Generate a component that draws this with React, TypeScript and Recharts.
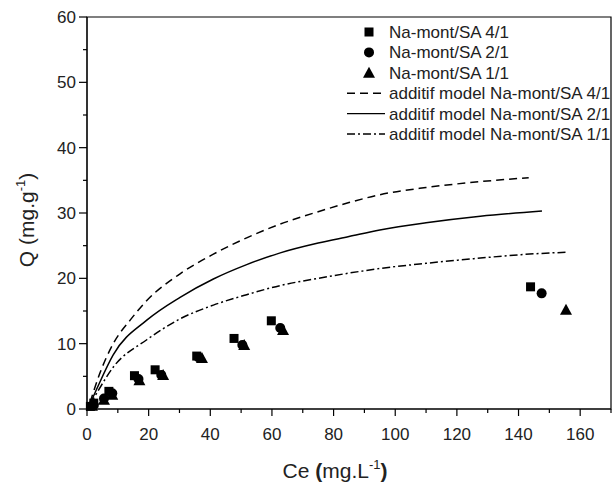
import React from "react";
import {
  ComposedChart,
  Line,
  Scatter,
  XAxis,
  YAxis,
  ReferenceArea,
  Label
} from "recharts";

// measured points (Ce, Q)
const mont41 = [
  { x: 1.1, y: 0.4 }, { x: 2.2, y: 0.9 }, { x: 7.1, y: 2.7 }, { x: 15.4, y: 5.1 },
  { x: 22.1, y: 6.0 }, { x: 35.6, y: 8.1 }, { x: 47.7, y: 10.8 }, { x: 59.8, y: 13.5 },
  { x: 143.9, y: 18.7 }
];
const mont21 = [
  { x: 2.2, y: 0.6 }, { x: 5.5, y: 1.6 }, { x: 8.2, y: 2.4 }, { x: 16.7, y: 4.6 },
  { x: 24.1, y: 5.2 }, { x: 36.2, y: 7.9 }, { x: 50.4, y: 9.8 }, { x: 62.7, y: 12.4 },
  { x: 147.5, y: 17.7 }
];
const mont11 = [
  { x: 1.6, y: 0.5 }, { x: 5.5, y: 1.4 }, { x: 8.2, y: 2.2 }, { x: 17.0, y: 4.4 },
  { x: 24.7, y: 5.2 }, { x: 37.3, y: 7.8 }, { x: 51.0, y: 9.8 }, { x: 63.6, y: 12.1 },
  { x: 155.4, y: 15.2 }
];

// additive model curves
const model41 = [
  { x: 1, y: 1.0 }, { x: 4.2, y: 5.5 }, { x: 8.5, y: 10.0 }, { x: 14, y: 13.6 },
  { x: 19.4, y: 16.6 }, { x: 30.2, y: 20.7 }, { x: 41, y: 23.7 }, { x: 51.8, y: 26.2 },
  { x: 62.7, y: 28.3 }, { x: 75, y: 30.2 }, { x: 85, y: 31.6 }, { x: 95, y: 32.8 },
  { x: 110, y: 33.9 }, { x: 127.6, y: 34.8 }, { x: 143.3, y: 35.4 }
];
const model21 = [
  { x: 1, y: 0.8 }, { x: 3, y: 2.9 }, { x: 8.5, y: 8.3 }, { x: 19.4, y: 13.6 },
  { x: 30.2, y: 17.1 }, { x: 41, y: 19.9 }, { x: 51.8, y: 22.1 }, { x: 62.7, y: 23.9 },
  { x: 75, y: 25.4 }, { x: 85, y: 26.4 }, { x: 95, y: 27.4 }, { x: 110, y: 28.5 },
  { x: 127.6, y: 29.5 }, { x: 147.6, y: 30.3 }
];
const model11 = [
  { x: 1, y: 0.7 }, { x: 3, y: 2.3 }, { x: 8.5, y: 6.4 }, { x: 19.4, y: 10.6 },
  { x: 30.2, y: 13.8 }, { x: 41, y: 15.9 }, { x: 51.8, y: 17.5 }, { x: 62.7, y: 18.9 },
  { x: 75, y: 20.0 }, { x: 85, y: 20.8 }, { x: 95, y: 21.5 }, { x: 110, y: 22.3 },
  { x: 127.6, y: 23.1 }, { x: 140, y: 23.6 }, { x: 155.7, y: 24.0 }
];

const xTicks = [0, 10, 20, 30, 40, 50, 60, 70, 80, 90, 100, 110, 120, 130, 140, 150, 160, 170];
const yTicks = [0, 5, 10, 15, 20, 25, 30, 35, 40, 45, 50, 55, 60];

const legendItems = [
  { name: "Na-mont/SA 4/1", kind: "square" },
  { name: "Na-mont/SA 2/1", kind: "circle" },
  { name: "Na-mont/SA 1/1", kind: "triangle" },
  { name: "additif model Na-mont/SA 4/1", kind: "dash" },
  { name: "additif model Na-mont/SA 2/1", kind: "solid" },
  { name: "additif model Na-mont/SA 1/1", kind: "dashdot" }
];

const FONT = "'Liberation Sans', Arial, sans-serif";
const DASH = "8 5";
const DASHDOT = "8 3 2 3";

const Square = (p: any) => <rect x={p.cx - 4.5} y={p.cy - 4.5} width={9} height={9} fill="#000" />;
const Circle = (p: any) => <circle cx={p.cx} cy={p.cy} r={5} fill="#000" />;
const Triangle = (p: any) => (
  <polygon points={`${p.cx},${p.cy - 6} ${p.cx - 6},${p.cy + 5} ${p.cx + 6},${p.cy + 5}`} fill="#000" />
);

const XTick = (props: any) => {
  const { x, y, payload } = props;
  const major = payload.value % 20 === 0;
  return (
    <g>
      <line x1={x} x2={x} y1={y} y2={y + (major ? 7 : 4)} stroke="#000" strokeWidth={1.2} />
      {major && (
        <text x={x} y={y + 31} textAnchor="middle" fontSize={17} fontFamily={FONT} fill="#222">
          {payload.value}
        </text>
      )}
    </g>
  );
};

const YTick = (props: any) => {
  const { x, y, payload } = props;
  const major = payload.value % 10 === 0;
  return (
    <g>
      <line x1={x - (major ? 8 : 4)} x2={x} y1={y} y2={y} stroke="#000" strokeWidth={1.2} />
      {major && (
        <text x={x - 11} y={y + 6} textAnchor="end" fontSize={17} fontFamily={FONT} fill="#222">
          {payload.value}
        </text>
      )}
    </g>
  );
};

const LegendBox = () => (
  <svg width={272} height={130} style={{ position: "absolute", left: 339, top: 22 }}>
    {legendItems.map((it, i) => {
      const y = 10 + i * 20.4;
      let mark: React.ReactNode = null;
      if (it.kind === "square") mark = <Square cx={30} cy={y} />;
      else if (it.kind === "circle") mark = <Circle cx={30} cy={y} />;
      else if (it.kind === "triangle") mark = <Triangle cx={30} cy={y} />;
      else
        mark = (
          <line
            x1={8}
            x2={46}
            y1={y}
            y2={y}
            stroke="#000"
            strokeWidth={1.4}
            strokeDasharray={it.kind === "dash" ? DASH : it.kind === "dashdot" ? DASHDOT : undefined}
          />
        );
      return (
        <g key={it.name}>
          {mark}
          <text x={50} y={y + 6} fontSize={17} fontFamily={FONT} fill="#222">
            {it.name}
          </text>
        </g>
      );
    })}
  </svg>
);

const App: React.FC = () => {
  return (
    <div style={{ position: "absolute", left: 0, top: 0, width: 612, height: 482, background: "#fff" }}>
      <ComposedChart width={612} height={482} margin={{ top: 17, right: 1, left: 25, bottom: 0 }}>
        <XAxis
          type="number"
          dataKey="x"
          domain={[0, 170]}
          ticks={xTicks}
          interval={0}
          tickLine={false}
          tickSize={0}
          tickMargin={0}
          tick={<XTick />}
          height={73}
          stroke="#000"
          allowDuplicatedCategory={false}
        >
          <Label
            content={() => (
              <text x={335} y={478} textAnchor="middle" fontSize={21} fontFamily={FONT} fill="#222">
                Ce <tspan fontWeight="bold">(</tspan>mg.L
                <tspan dy={-9} fontSize={13}>-1</tspan>
                <tspan dy={9} fontWeight="bold">)</tspan>
              </text>
            )}
          />
        </XAxis>
        <YAxis
          type="number"
          domain={[0, 60]}
          ticks={yTicks}
          interval={0}
          tickLine={false}
          tickSize={0}
          tickMargin={0}
          tick={<YTick />}
          width={62}
          stroke="#000"
        >
          <Label
            content={() => (
              <text
                x={0}
                y={0}
                transform="translate(34 220) rotate(-90)"
                textAnchor="middle"
                fontSize={21}
                fontFamily={FONT}
                fill="#222"
              >
                Q (mg.g
                <tspan dy={-9} fontSize={13}>-1</tspan>
                <tspan dy={9}>)</tspan>
              </text>
            )}
          />
        </YAxis>
        <ReferenceArea x1={0} x2={170} y1={0} y2={60} fill="none" stroke="#000" strokeWidth={1.2} />
        <Line data={model41} dataKey="y" type="monotone" stroke="#000" strokeWidth={1.5} strokeDasharray={DASH} dot={false} isAnimationActive={false} />
        <Line data={model21} dataKey="y" type="monotone" stroke="#000" strokeWidth={1.5} dot={false} isAnimationActive={false} />
        <Line data={model11} dataKey="y" type="monotone" stroke="#000" strokeWidth={1.5} strokeDasharray={DASHDOT} dot={false} isAnimationActive={false} />
        <Scatter data={mont41} dataKey="y" shape={Square} isAnimationActive={false} />
        <Scatter data={mont21} dataKey="y" shape={Circle} isAnimationActive={false} />
        <Scatter data={mont11} dataKey="y" shape={Triangle} isAnimationActive={false} />
      </ComposedChart>
      <LegendBox />
    </div>
  );
};

export default App;
